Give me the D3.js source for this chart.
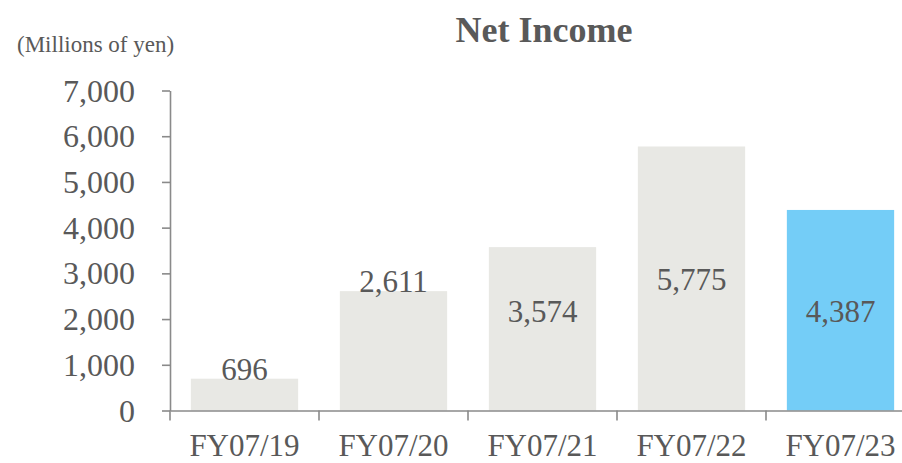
<!DOCTYPE html>
<html>
<head>
    <meta charset="utf-8" />
    <title>Net Income</title>
    <script src="https://d3js.org/d3.v7.min.js"></script>
    <style>
        body { margin: 0; background: #fff; }
        svg { display: block; font-family: "Liberation Serif", "Times New Roman", serif; }
        .axis path, .axis line { stroke: #8a8a8a; stroke-width: 1.6px; }
        .axis text { fill: #595959; font-size: 32px; font-family: "Liberation Serif", "Times New Roman", serif; }
        .axis--x text { font-size: 31px; }
    </style>
</head>
<body>
<svg width="902" height="463"></svg>
<script>
    // chart data
    var years = ["FY07/19", "FY07/20", "FY07/21", "FY07/22", "FY07/23"];
    var netIncome = [696, 2611, 3574, 5775, 4387];
    // where each value label sits (baseline, in millions of yen)
    var labelAt = [670, 2600, 1940, 2640, 1940];
    var yTicks = [0, 1000, 2000, 3000, 4000, 5000, 6000, 7000];
    var highlightYear = "FY07/23";

    var svg = d3.select("svg"),
        margin = { top: 90.5, right: -13, bottom: 52.5, left: 170 },
        width = +svg.attr("width") - margin.left - margin.right,
        height = +svg.attr("height") - margin.top - margin.bottom,
        g = svg.append("g").attr("transform", "translate(" + margin.left + "," + margin.top + ")");

    var x = d3.scaleBand()
        .domain(years)
        .range([0, width])
        .paddingInner(0.28)
        .paddingOuter(0.14);

    var y = d3.scaleLinear()
        .domain([0, 7000])
        .range([height, 0]);

    // bars
    g.selectAll(".bar")
        .data(years)
        .enter().append("rect")
        .attr("class", "bar")
        .attr("x", function (d) { return x(d); })
        .attr("width", x.bandwidth())
        .attr("y", function (d, i) { return y(netIncome[i]); })
        .attr("height", function (d, i) { return height - y(netIncome[i]); })
        .attr("fill", function (d) { return d == highlightYear ? "#74cdf7" : "#e8e8e4"; });

    // value labels
    g.selectAll(".label")
        .data(years)
        .enter().append("text")
        .attr("class", "label")
        .attr("x", function (d) { return x(d) + x.bandwidth() / 2; })
        .attr("y", function (d, i) { return y(labelAt[i]); })
        .attr("text-anchor", "middle")
        .attr("fill", "#595959")
        .style("font-size", "31px")
        .text(function (d, i) { return d3.format(",")(netIncome[i]); });

    // y axis
    g.append("g")
        .attr("class", "axis axis--y")
        .call(d3.axisLeft(y).tickValues(yTicks).tickFormat(d3.format(",")).tickSize(8).tickSizeOuter(0).tickPadding(27))
        .selectAll("text").attr("dy", "0.33em");

    // x axis: labels under band centres, tick marks on band edges
    var xAxis = g.append("g")
        .attr("class", "axis axis--x")
        .attr("transform", "translate(0," + height + ")")
        .call(d3.axisBottom(x).tickSize(0).tickSizeOuter(0));

    xAxis.selectAll(".tick text")
        .attr("y", 45.5)
        .attr("dy", null);

    var gap = x.step() * x.paddingInner() / 2;
    xAxis.selectAll(".edge")
        .data(years)
        .enter().append("line")
        .attr("class", "edge")
        .attr("x1", function (d) { return x(d) - gap; })
        .attr("x2", function (d) { return x(d) - gap; })
        .attr("y1", 0)
        .attr("y2", 10);

    // titles
    svg.append("text")
        .attr("x", 544)
        .attr("y", 42)
        .attr("text-anchor", "middle")
        .attr("fill", "#595959")
        .style("font-size", "36px")
        .style("font-weight", "bold")
        .text("Net Income");

    svg.append("text")
        .attr("x", 17)
        .attr("y", 52)
        .attr("fill", "#595959")
        .style("font-size", "23px")
        .text("(Millions of yen)");
</script>
</body>
</html>
